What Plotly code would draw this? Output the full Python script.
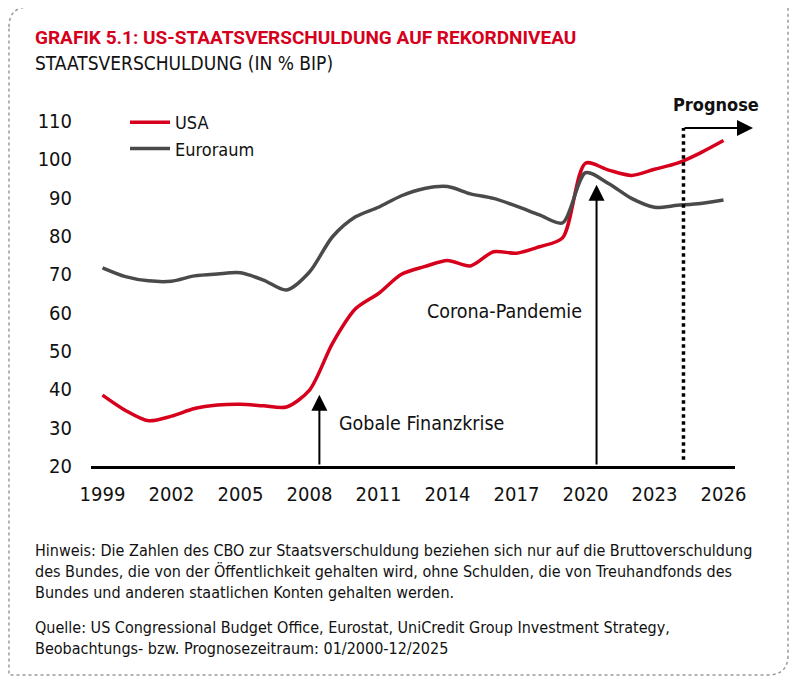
import plotly.graph_objects as go

years = list(range(1999, 2027))
usa = [38.5, 34.5, 31.8, 33.0, 35.0, 35.9, 36.1, 35.7, 35.4, 39.8, 52.0, 61.0, 65.0, 70.0,
       72.0, 73.6, 72.2, 75.9, 75.5, 77.2, 79.5, 99.0, 97.2, 95.8, 97.4, 99.0, 101.7, 104.9]
euro = [71.7, 69.4, 68.3, 68.2, 69.6, 70.1, 70.4, 68.5, 65.9, 70.6, 79.8, 85.0, 87.5, 90.5,
        92.4, 92.9, 91.0, 89.8, 87.8, 85.5, 83.4, 96.5, 93.7, 89.8, 87.5, 88.0, 88.5, 89.4]
x_ticks = [1999, 2002, 2005, 2008, 2011, 2014, 2017, 2020, 2023, 2026]
y_ticks = [20, 30, 40, 50, 60, 70, 80, 90, 100, 110]

RED = "#D6001C"
GREY = "#4A4A4A"
FONT = "DejaVu Sans Condensed, Liberation Sans Narrow, sans-serif"
TFONT = "Roboto, sans-serif"

OFF = 8  # page body margin
W, H = 799, 685
L, R, T, B = 91 - OFF, 735 - OFF, 121 - OFF, 466 - OFF
XR = [1998.5, 2026.5]
YR = [20, 110]

def px(xp):
    return (xp - OFF - L) / (R - L)

def py(yp):
    return (B - (yp - OFF)) / (B - T)

fig = go.Figure()
fig.add_trace(go.Scatter(x=years, y=usa, name="USA", mode="lines",
                         line=dict(color=RED, width=3.5, shape="spline", smoothing=0.8)))
fig.add_trace(go.Scatter(x=years, y=euro, name="Euroraum", mode="lines",
                         line=dict(color=GREY, width=3.5, shape="spline", smoothing=0.8)))

ann = []
# Titles
ann.append(dict(text="GRAFIK 5.1: US-STAATSVERSCHULDUNG AUF REKORDNIVEAU", xref="paper", yref="paper",
                x=px(33), y=py(37), xanchor="left", yanchor="middle", showarrow=False,
                font=dict(family=TFONT, size=19, color=RED, weight="bold")))
ann.append(dict(text="STAATSVERSCHULDUNG (IN % BIP)", xref="paper", yref="paper",
                x=px(33), y=py(63), xanchor="left", yanchor="middle", showarrow=False,
                font=dict(family=FONT, size=19, color="#111")))
# Arrows
ann.append(dict(x=2008.43, y=38.6, ax=2008.43, ay=20, xref="x", yref="y", axref="x", ayref="y",
                text="", showarrow=True, arrowhead=2, arrowsize=1.6, arrowwidth=2, arrowcolor="black",
                standoff=0, startstandoff=0))
ann.append(dict(x=2020.48, y=93.4, ax=2020.48, ay=20, xref="x", yref="y", axref="x", ayref="y",
                text="", showarrow=True, arrowhead=2, arrowsize=1.6, arrowwidth=2, arrowcolor="black",
                standoff=0, startstandoff=0))
ann.append(dict(text="Gobale Finanzkrise", x=2009.2, y=31.0, xref="x", yref="y", xanchor="left",
                yanchor="middle", showarrow=False, font=dict(family=FONT, size=19.5, color="#111")))
ann.append(dict(text="Corona-Pandemie", x=2019.95, y=60.2, xref="x", yref="y", xanchor="right",
                yanchor="middle", showarrow=False, font=dict(family=FONT, size=19.5, color="#111")))
# Prognose arrow
ann.append(dict(x=px(753), y=py(128), ax=683 - 753, ay=0, xref="paper", yref="paper",
                axref="pixel", ayref="pixel", text="", showarrow=True, arrowhead=2, arrowsize=1.6,
                arrowwidth=2, arrowcolor="black", standoff=0, startstandoff=0))
ann.append(dict(text="<b>Prognose</b>", x=px(716), y=py(105), xref="paper", yref="paper",
                xanchor="center", yanchor="middle", showarrow=False,
                font=dict(family=FONT, size=18, color="#111")))
# Footnotes
ann.append(dict(text="Hinweis: Die Zahlen des CBO zur Staatsverschuldung beziehen sich nur auf die Bruttoverschuldung<br>"
                     "des Bundes, die von der Öffentlichkeit gehalten wird, ohne Schulden, die von Treuhandfonds des<br>"
                     "Bundes und anderen staatlichen Konten gehalten werden.",
                x=px(33), y=py(539), xref="paper", yref="paper", xanchor="left", yanchor="top",
                align="left", showarrow=False, font=dict(family=FONT, size=16, color="#111")))
ann.append(dict(text="Quelle: US Congressional Budget Office, Eurostat, UniCredit Group Investment Strategy,<br>"
                     "Beobachtungs- bzw. Prognosezeitraum: 01/2000-12/2025",
                x=px(33), y=py(616), xref="paper", yref="paper", xanchor="left", yanchor="top",
                align="left", showarrow=False, font=dict(family=FONT, size=16, color="#111")))

# Frame with rounded top-left and bottom-right corners
fx0, fy0, fx1, fy1, rr = 9, 7, 788, 675, 20
def P(a, b):
    return f"{px(a):.5f},{py(b):.5f}"
path = (f"M {P(fx0, fy0 + rr)} Q {P(fx0, fy0)} {P(fx0 + rr, fy0)} L {P(fx1, fy0)} "
        f"L {P(fx1, fy1 - rr)} Q {P(fx1, fy1)} {P(fx1 - rr, fy1)} L {P(fx0, fy1)} Z")
shapes = [
    dict(type="path", path=path, xref="paper", yref="paper",
         line=dict(color="#9a9a9a", width=1.5, dash="dot"), layer="below"),
    dict(type="line", x0=2024.26, x1=2024.26, y0=21.6, y1=108.2, xref="x", yref="y",
         line=dict(color="black", width=3.5, dash="dot")),
]

fig.update_layout(
    width=W, height=H,
    margin=dict(l=L, r=W - R, t=T, b=H - B),
    paper_bgcolor="white", plot_bgcolor="white",
    font=dict(family=FONT, size=20, color="#111"),
    showlegend=True,
    legend=dict(x=px(125), y=py(104), xanchor="left", yanchor="top", bgcolor="rgba(0,0,0,0)",
                font=dict(family=FONT, size=18, color="#111"), tracegroupgap=0, itemwidth=40),
    annotations=ann, shapes=shapes,
    xaxis=dict(range=XR, tickvals=x_ticks, ticktext=[str(v) for v in x_ticks], showgrid=False,
               zeroline=False, showline=True, linecolor="black", linewidth=2.5, ticks="",
               ticklabelstandoff=8, tickfont=dict(family=FONT, size=20, color="#111")),
    yaxis=dict(range=YR, tickvals=y_ticks, showgrid=False, zeroline=False, showline=False,
               ticks="", ticklabelstandoff=18, tickfont=dict(family=FONT, size=20, color="#111")),
)

fig.write_html("out.html")
